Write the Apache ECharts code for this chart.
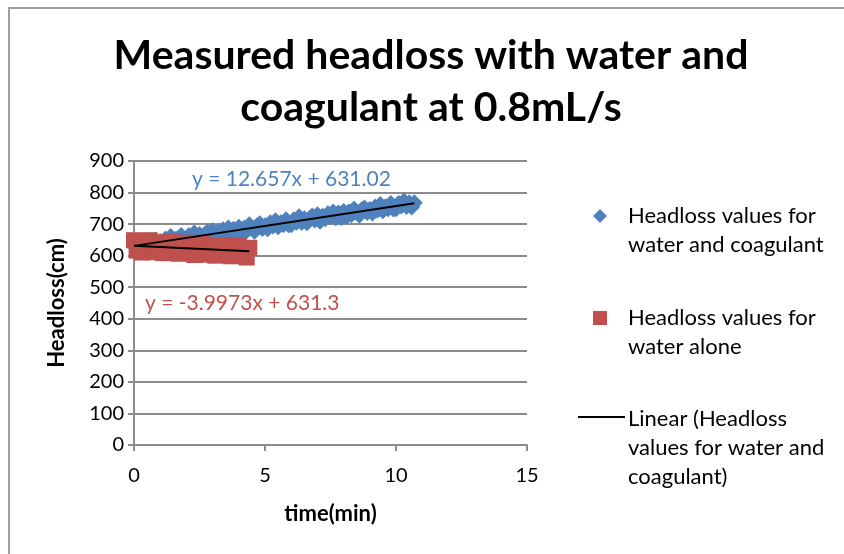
<!DOCTYPE html>
<html>
<head>
<meta charset="utf-8">
<title>Measured headloss</title>
<script src="https://cdn.jsdelivr.net/npm/echarts@6/dist/echarts.min.js"></script>
<style>
  html, body { margin: 0; padding: 0; background: #fff; }
  #chart { width: 844px; height: 554px; }
</style>
</head>
<body>
<div id="chart"></div>
<script>
  // time (min) and headloss (cm)
  const coagTime = [
    0.0, 0.1, 0.2, 0.3, 0.4, 0.5, 0.6, 0.7, 0.8, 0.9, 1.0, 1.1, 1.2, 1.3, 1.4, 1.5, 1.6, 1.7, 1.8, 1.9,
    2.0, 2.1, 2.2, 2.3, 2.4, 2.5, 2.6, 2.7, 2.8, 2.9, 3.0, 3.1, 3.2, 3.3, 3.4, 3.5, 3.6, 3.7, 3.8, 3.9,
    4.0, 4.1, 4.2, 4.3, 4.4, 4.5, 4.6, 4.7, 4.8, 4.9, 5.0, 5.1, 5.2, 5.3, 5.4, 5.5, 5.6, 5.7, 5.8, 5.9,
    6.0, 6.1, 6.2, 6.3, 6.4, 6.5, 6.6, 6.7, 6.8, 6.9, 7.0, 7.1, 7.2, 7.3, 7.4, 7.5, 7.6, 7.7, 7.8, 7.9,
    8.0, 8.1, 8.2, 8.3, 8.4, 8.5, 8.6, 8.7, 8.8, 8.9, 9.0, 9.1, 9.2, 9.3, 9.4, 9.5, 9.6, 9.7, 9.8, 9.9,
    10.0, 10.1, 10.2, 10.3, 10.4, 10.5, 10.6, 10.7]
  const coagHeadloss = [
    639, 622, 637, 629, 647, 635, 627, 645, 650, 635, 645, 634, 653, 643, 661, 641, 653, 648, 664, 647,
    647, 664, 656, 672, 654, 667, 653, 667, 675, 663, 679, 658, 675, 667, 682, 673, 688, 670, 684, 670,
    690, 673, 687, 679, 698, 686, 677, 695, 701, 686, 695, 685, 704, 694, 711, 692, 704, 698, 714, 698,
    698, 714, 706, 723, 705, 717, 704, 718, 726, 713, 730, 709, 725, 717, 733, 724, 738, 720, 735, 721,
    740, 723, 738, 730, 748, 737, 728, 746, 751, 737, 746, 735, 754, 745, 762, 742, 755, 749, 765, 748,
    749, 765, 757, 773, 756, 768, 754, 768]

  const waterTime = [
    0.0, 0.1, 0.2, 0.3, 0.4, 0.5, 0.6, 0.7, 0.8, 0.9, 1.0, 1.1, 1.2, 1.3, 1.4, 1.5, 1.6, 1.7, 1.8, 1.9,
    2.0, 2.1, 2.2, 2.3, 2.4, 2.5, 2.6, 2.7, 2.8, 2.9, 3.0, 3.1, 3.2, 3.3, 3.4, 3.5, 3.6, 3.7, 3.8, 3.9,
    4.0, 4.1, 4.2, 4.3, 4.4]
  const waterHeadloss = [
    649, 616, 636, 610, 642, 621, 649, 611, 631, 616, 642, 608, 635, 621, 643, 611, 626, 606, 637, 614,
    641, 608, 628, 602, 633, 613, 641, 603, 623, 607, 634, 600, 627, 613, 634, 603, 618, 598, 629, 605,
    633, 600, 620, 594, 625]

  // Excel trendline coefficients (shown on the chart)
  const coagFit = { slope: 12.657, intercept: 631.02 }
  const waterFit = { slope: -3.9973, intercept: 631.3 }

  const xTicks = [0, 5, 10, 15]
  const yTicks = [0, 100, 200, 300, 400, 500, 600, 700, 800, 900]

  const BLUE = '#4f81bd'
  const RED = '#c0504d'
  const GRID = '#8c8c8c'
  const FONT = 'Lato'

  const zip = (xs, ys) => xs.map((x, i) => [x, ys[i]])
  const fitLine = (xs, fit) => {
    const x0 = xs[0], x1 = xs[xs.length - 1]
    return [[x0, fit.intercept + fit.slope * x0], [x1, fit.intercept + fit.slope * x1]]
  }

  const nameCoag = 'Headloss values for water and coagulant'
  const nameWater = 'Headloss values for water alone'
  const nameLin = 'Linear (Headloss values for water and coagulant)'

  // legend text is placed beside the icons, first line level with the icon
  const legendLabel = (text, top) => ({
    type: 'text', left: 628, top: top,
    style: { text: text, fill: '#000', font: '22px ' + FONT, lineHeight: 29 },
  })

  const option = {
    animation: false,
    title: {
      text: 'Measured headloss with water and\ncoagulant at 0.8mL/s',
      left: 426,
      textAlign: 'center',
      top: 25,
      textStyle: { fontFamily: FONT, fontWeight: 'bold', fontSize: 41, lineHeight: 52, color: '#000' },
    },
    grid: { left: 134, top: 161, width: 393, height: 284 },
    xAxis: {
      type: 'value',
      min: xTicks[0],
      max: xTicks[xTicks.length - 1],
      interval: 5,
      name: 'time(min)',
      nameLocation: 'middle',
      nameGap: 58,
      nameMoveOverlap: false,
      nameTextStyle: { fontFamily: FONT, fontWeight: 'bold', fontSize: 22, color: '#000' },
      axisLine: { show: true, lineStyle: { color: GRID, width: 2 } },
      axisTick: { show: true, inside: false, length: 6, lineStyle: { color: GRID, width: 2 } },
      axisLabel: { margin: 21, fontFamily: FONT, fontSize: 20, color: '#000' },
      splitLine: { show: false },
    },
    yAxis: {
      type: 'value',
      min: yTicks[0],
      max: yTicks[yTicks.length - 1],
      interval: 100,
      name: 'Headloss(cm)',
      nameLocation: 'middle',
      nameGap: 66,
      nameMoveOverlap: false,
      nameTextStyle: { fontFamily: FONT, fontWeight: 'bold', fontSize: 22, color: '#000' },
      axisLine: { show: true, lineStyle: { color: GRID, width: 2 } },
      axisTick: { show: true, inside: false, length: 6, lineStyle: { color: GRID, width: 2 } },
      axisLabel: { margin: 10, fontFamily: FONT, fontSize: 20, color: '#000' },
      splitLine: { show: true, lineStyle: { color: GRID, width: 2 } },
    },
    legend: [
      {
        data: [{ name: nameCoag, icon: 'diamond' }], left: 593, top: 209, padding: 0,
        itemWidth: 14, itemHeight: 14, formatter: () => '',
      },
      {
        data: [{ name: nameWater, icon: 'rect' }], left: 593, top: 311, padding: 0,
        itemWidth: 14, itemHeight: 14, formatter: () => '',
      },
      {
        data: [{ name: nameLin, icon: 'rect' }], left: 578, top: 416, padding: 0,
        itemWidth: 47, itemHeight: 2, formatter: () => '',
      },
    ],
    graphic: [
      {
        type: 'polyline', silent: true,
        shape: { points: [[9, 560], [9, 8], [850, 8]] },
        style: { fill: null, stroke: '#a0a0a0', lineWidth: 2 },
      },
      {
        type: 'text', left: 192, top: 169,
        style: { text: 'y = 12.657x + 631.02', fill: BLUE, font: '21px ' + FONT },
      },
      {
        type: 'text', left: 145, top: 293,
        style: { text: 'y = -3.9973x + 631.3', fill: RED, font: '21px ' + FONT },
      },
      legendLabel('Headloss values for\nwater and coagulant', 201),
      legendLabel('Headloss values for\nwater alone', 303),
      legendLabel('Linear (Headloss\nvalues for water and\ncoagulant)', 404),
    ],
    series: [
      {
        name: nameCoag,
        type: 'scatter',
        symbol: 'diamond',
        symbolSize: 17,
        itemStyle: { color: BLUE, opacity: 1 },
        data: zip(coagTime, coagHeadloss),
        z: 2,
      },
      {
        name: nameWater,
        type: 'scatter',
        symbol: 'rect',
        symbolSize: 16,
        itemStyle: { color: RED, opacity: 1 },
        data: zip(waterTime, waterHeadloss),
        z: 3,
      },
      {
        name: nameLin,
        type: 'line',
        symbol: 'none',
        lineStyle: { color: '#000', width: 2 },
        itemStyle: { color: '#000' },
        data: fitLine(coagTime, coagFit),
        z: 4,
      },
      {
        name: 'Linear (Headloss values for water alone)',
        type: 'line',
        symbol: 'none',
        lineStyle: { color: '#000', width: 2 },
        itemStyle: { color: '#000' },
        data: fitLine(waterTime, waterFit),
        z: 4,
      },
    ],
  }

  const chart = echarts.init(document.getElementById('chart'), null, { renderer: 'canvas' })
  chart.setOption(option)
</script>
</body>
</html>
